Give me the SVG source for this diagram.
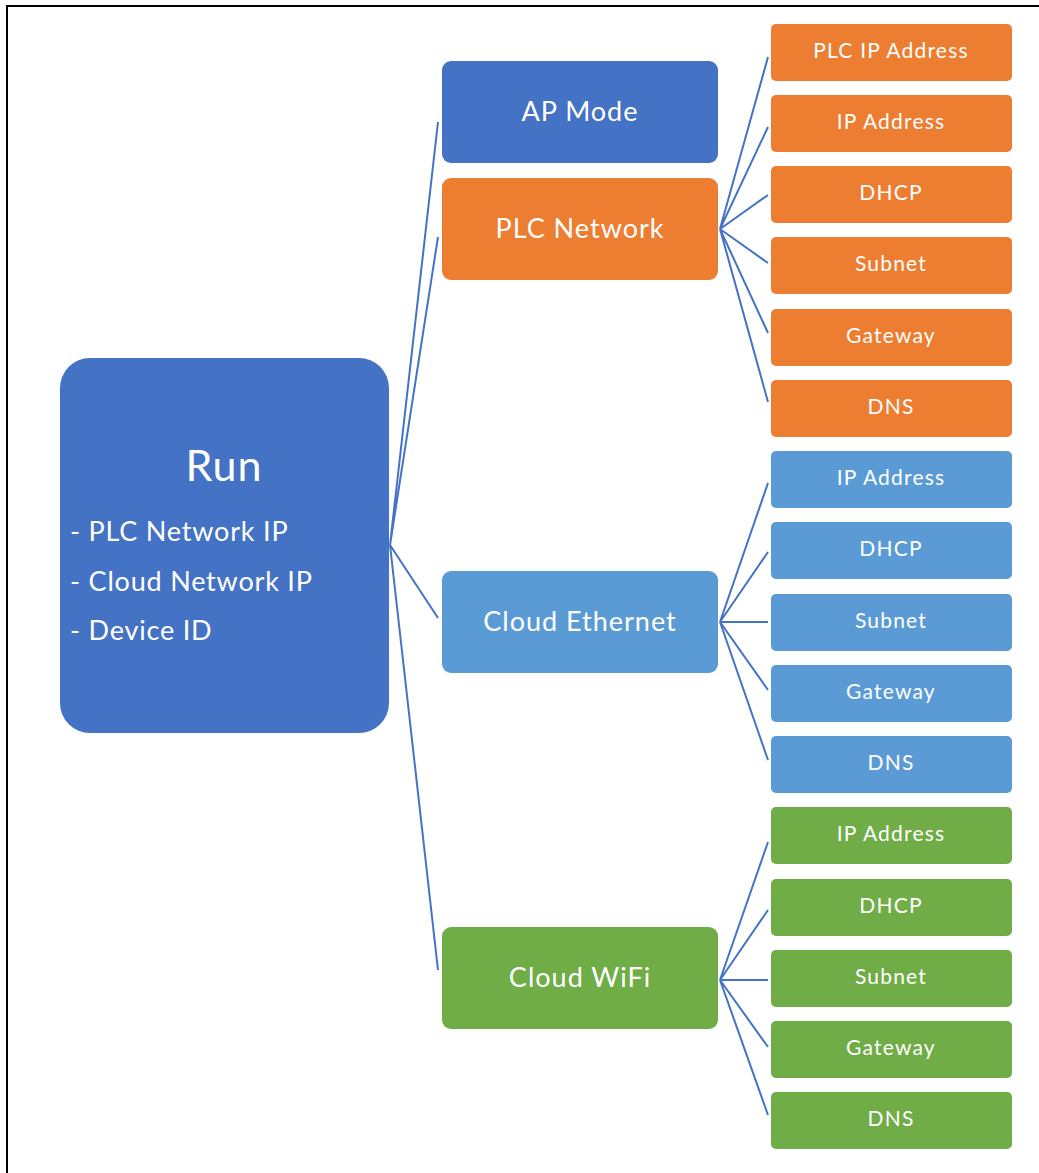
<svg xmlns="http://www.w3.org/2000/svg" width="1039" height="1173" viewBox="0 0 1039 1173">
<style>
.t{font-family:Lato,"Liberation Sans",sans-serif;fill:#fff;text-anchor:middle}
.mid{font-size:27px;letter-spacing:1px}
.leaf{font-size:21px;letter-spacing:1.2px}
.bul{font-size:27px;letter-spacing:0.8px;text-anchor:start}
.c{stroke:#4472C4;stroke-width:2;fill:none}
.b1{fill:#4472C4}.o{fill:#ED7D31}.lb{fill:#5B9BD5}.g{fill:#70AD47}
</style>
<rect x="7" y="6" width="1100" height="1200" fill="none" stroke="#000" stroke-width="2"/>
<g id="connectors">
<path class="c" d="M390 545L438 122M390 545L438 237M390 545L438 618M390 545L438 970"/>
<path class="c" d="M720 229L768 57M720 229L768 127M720 229L768 195M720 229L768 263M720 229L768 333M720 229L768 402"/>
<path class="c" d="M720 622L768 483M720 622L768 552M720 622L768 622M720 622L768 690M720 622L768 760"/>
<path class="c" d="M720 980L768 842M720 980L768 910M720 980L768 980M720 980L768 1047M720 980L768 1115"/>
</g>
<g id="run"><rect class="b1" x="60" y="358" width="329" height="375" rx="30"/>
<text class="t" x="224" y="481" font-size="43" letter-spacing="1">Run</text>
<text class="t bul" x="70" y="541">- PLC Network IP</text>
<text class="t bul" x="70" y="591">- Cloud Network IP</text>
<text class="t bul" x="70" y="640">- Device ID</text></g>
<g id="ap-mode"><rect class="b1" x="442" y="61" width="276" height="102" rx="9"/><text class="t mid" x="580" y="121">AP Mode</text></g>
<g id="plc-network"><rect class="o" x="442" y="178" width="276" height="102" rx="9"/><text class="t mid" x="580" y="238">PLC Network</text></g>
<g id="cloud-ethernet"><rect class="lb" x="442" y="571" width="276" height="102" rx="9"/><text class="t mid" x="580" y="631">Cloud Ethernet</text></g>
<g id="cloud-wifi"><rect class="g" x="442" y="927" width="276" height="102" rx="9"/><text class="t mid" x="580" y="987">Cloud WiFi</text></g>
<g id="plc-ip-address"><rect class="o" x="771" y="24" width="241" height="57" rx="5"/><text class="t leaf" x="891" y="58">PLC IP Address</text></g>
<g id="plc-ip"><rect class="o" x="771" y="95" width="241" height="57" rx="5"/><text class="t leaf" x="891" y="129">IP Address</text></g>
<g id="plc-dhcp"><rect class="o" x="771" y="166" width="241" height="57" rx="5"/><text class="t leaf" x="891" y="200">DHCP</text></g>
<g id="plc-subnet"><rect class="o" x="771" y="237" width="241" height="57" rx="5"/><text class="t leaf" x="891" y="271">Subnet</text></g>
<g id="plc-gateway"><rect class="o" x="771" y="309" width="241" height="57" rx="5"/><text class="t leaf" x="891" y="343">Gateway</text></g>
<g id="plc-dns"><rect class="o" x="771" y="380" width="241" height="57" rx="5"/><text class="t leaf" x="891" y="414">DNS</text></g>
<g id="eth-ip"><rect class="lb" x="771" y="451" width="241" height="57" rx="5"/><text class="t leaf" x="891" y="485">IP Address</text></g>
<g id="eth-dhcp"><rect class="lb" x="771" y="522" width="241" height="57" rx="5"/><text class="t leaf" x="891" y="556">DHCP</text></g>
<g id="eth-subnet"><rect class="lb" x="771" y="594" width="241" height="57" rx="5"/><text class="t leaf" x="891" y="628">Subnet</text></g>
<g id="eth-gateway"><rect class="lb" x="771" y="665" width="241" height="57" rx="5"/><text class="t leaf" x="891" y="699">Gateway</text></g>
<g id="eth-dns"><rect class="lb" x="771" y="736" width="241" height="57" rx="5"/><text class="t leaf" x="891" y="770">DNS</text></g>
<g id="wifi-ip"><rect class="g" x="771" y="807" width="241" height="57" rx="5"/><text class="t leaf" x="891" y="841">IP Address</text></g>
<g id="wifi-dhcp"><rect class="g" x="771" y="879" width="241" height="57" rx="5"/><text class="t leaf" x="891" y="913">DHCP</text></g>
<g id="wifi-subnet"><rect class="g" x="771" y="950" width="241" height="57" rx="5"/><text class="t leaf" x="891" y="984">Subnet</text></g>
<g id="wifi-gateway"><rect class="g" x="771" y="1021" width="241" height="57" rx="5"/><text class="t leaf" x="891" y="1055">Gateway</text></g>
<g id="wifi-dns"><rect class="g" x="771" y="1092" width="241" height="57" rx="5"/><text class="t leaf" x="891" y="1126">DNS</text></g>
</svg>
